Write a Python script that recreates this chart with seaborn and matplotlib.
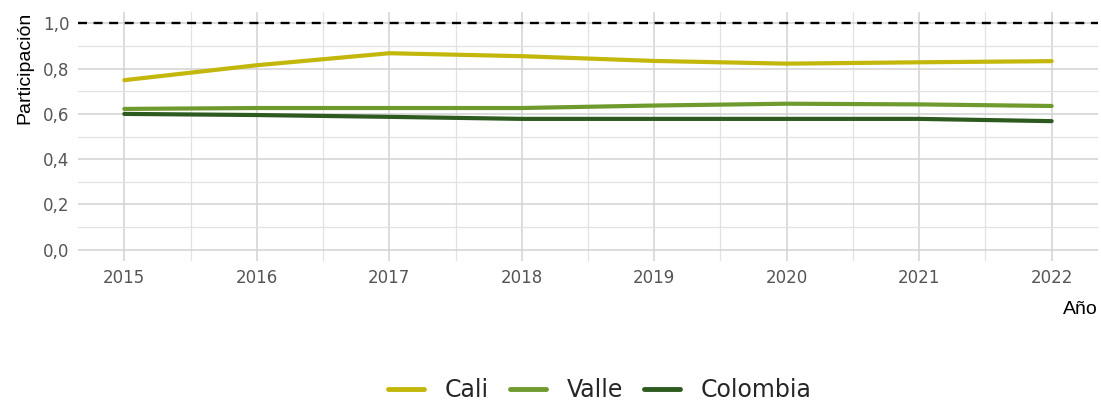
import matplotlib
matplotlib.use("Agg")
import matplotlib.pyplot as plt
from matplotlib.lines import Line2D
from matplotlib.ticker import FixedLocator, FuncFormatter
import numpy as np
import pandas as pd
import seaborn as sns

# Participation series by year
years = [2015, 2016, 2017, 2018, 2019, 2020, 2021, 2022]
cali = [0.749, 0.815, 0.868, 0.855, 0.834, 0.822, 0.828, 0.833]
valle = [0.622, 0.626, 0.626, 0.626, 0.637, 0.645, 0.642, 0.635]
colombia = [0.600, 0.595, 0.587, 0.578, 0.578, 0.578, 0.578, 0.568]
series_names = ["Cali", "Valle", "Colombia"]
series_colors = ["#c2b70a", "#6f9a2e", "#2d5a1f"]
reference_level = 1.0

df = pd.DataFrame({
    "Año": years * 3,
    "Participación": cali + valle + colombia,
    "Serie": [n for n in series_names for _ in years],
})

sns.set_theme(style="white")
plt.rcParams["font.family"] = ["DejaVu Sans"]

fig = plt.figure(figsize=(11.01, 4.01), dpi=100)
ax = fig.add_axes([0.0708, 0.349, 0.9265, 0.621])

# grid
ax.set_axisbelow(True)
ax.xaxis.set_major_locator(FixedLocator(years))
ax.xaxis.set_minor_locator(FixedLocator([y + 0.5 for y in years[:-1]]))
ax.yaxis.set_major_locator(FixedLocator([0, 0.2, 0.4, 0.6, 0.8, 1.0]))
ax.yaxis.set_minor_locator(FixedLocator([0.1, 0.3, 0.5, 0.7, 0.9]))
ax.grid(which="major", color="#d2d2d2", linewidth=1.1)
ax.grid(which="minor", color="#e2e2e2", linewidth=0.9)

palette = dict(zip(series_names, series_colors))
sns.lineplot(data=df, x="Año", y="Participación", hue="Serie",
             palette=palette, linewidth=3.0, ax=ax, legend=False)

ax.axhline(reference_level, color="black", linewidth=1.7, linestyle=(0, (3.8, 2.8)))

ax.set_xlim(2014.65, 2022.35)
ax.set_ylim(-0.05, 1.05)
ax.yaxis.set_major_formatter(FuncFormatter(lambda v, _: f"{v:.1f}".replace(".", ",")))
ax.tick_params(axis="both", which="both", length=0, labelsize=12, labelcolor="#555555")
ax.tick_params(axis="x", pad=6)
ax.tick_params(axis="y", pad=6)
for s in ax.spines.values():
    s.set_visible(False)

ax.set_xlabel("Año", loc="right", fontsize=14, family=["Liberation Sans"], color="black", labelpad=10)
ax.set_ylabel("Participación", loc="top", fontsize=14, family=["Liberation Sans"], color="black", labelpad=7)

handles = [Line2D([0], [0], color=c, linewidth=3.5) for c in series_colors]
fig.legend(handles, series_names, loc="center", bbox_to_anchor=(0.545, 1 - 390 / 401),
           ncol=3, frameon=False, fontsize=17, handlelength=1.5, handletextpad=0.9,
           columnspacing=0.9)

fig.savefig("out.png", dpi=100)
